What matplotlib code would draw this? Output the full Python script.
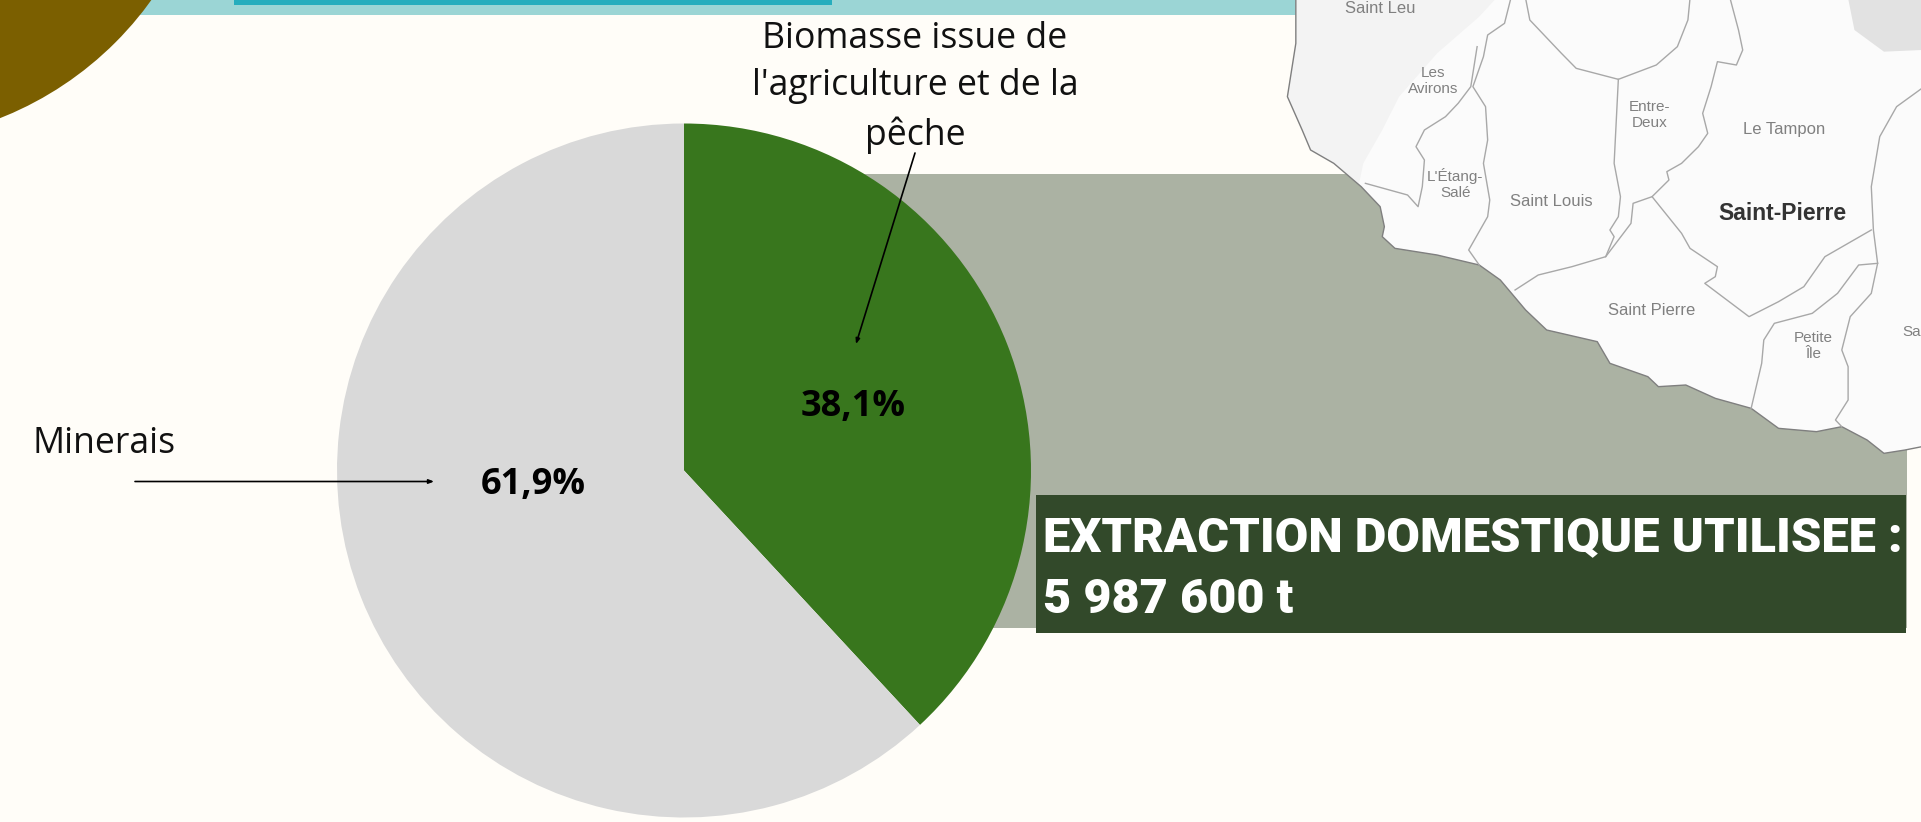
import matplotlib
matplotlib.use('Agg')
import matplotlib.pyplot as plt
from matplotlib.patches import Rectangle, Polygon

# valeurs du camembert
categories = ['Biomasse issue de\nl\'agriculture et de la\npêche', 'Minerais']
valeurs = [38.1, 61.9]
etiquettes = ['38,1%', '61,9%']
couleurs = ['#38761d', '#d9d9d9']
titre = ['EXTRACTION DOMESTIQUE UTILISEE :', '5 987 600 t']

W, H = 1921, 822


def Z(pts):
    return [(1260 + x / 2.372, H - y / 3) for x, y in pts]


# trait de cote et communes (fond de carte)
cote = [(85, -5), (85, 130), (65, 290), (100, 390), (120, 450), (175, 490), (240, 560), (285, 620), (295, 680),
        (290, 710), (320, 745), (420, 765), (520, 795), (570, 840), (630, 930), (680, 990), (800, 1025), (830, 1090),
        (920, 1130), (945, 1160), (1010, 1155), (1080, 1195), (1165, 1225), (1230, 1285), (1320, 1295), (1380, 1280),
        (1440, 1320), (1480, 1360), (1530, 1350), (1570, 1340)]
zone_grise = [(85, -5), (85, 130), (65, 290), (100, 390), (120, 450), (175, 490), (235, 550), (245, 490), (290, 390),
              (330, 290), (420, 160), (520, 50), (560, -5)]
bloc_haut = [(1395, -5), (1410, 90), (1480, 155), (1570, 150), (1570, -5)]
communes = [
    [(515, 140), (500, 260), (470, 310), (440, 350), (390, 390), (370, 440), (390, 480), (385, 560), (375, 620),
     (350, 585), (250, 550)],
    [(595, -5), (580, 70), (540, 105), (530, 170), (505, 260), (535, 320), (540, 420), (530, 490), (545, 600),
     (540, 650), (495, 750), (520, 795)],
    [(630, -5), (640, 60), (715, 160), (750, 205), (850, 238), (940, 195), (990, 140), (1015, 60), (1020, -5)],
    [(850, 238), (840, 490), (855, 590), (850, 650), (830, 690), (840, 710), (820, 770), (740, 800), (660, 825),
     (605, 870)],
    [(1115, -5), (1135, 90), (1145, 150), (1130, 195), (1085, 185), (1070, 260), (1050, 340), (1062, 400), (1040, 440),
     (1000, 490), (965, 515), (970, 540), (930, 590), (885, 610), (880, 670), (820, 770)],
    [(930, 590), (1000, 700), (1020, 745), (1085, 800), (1080, 830), (1055, 850), (1160, 950), (1230, 905), (1290, 860),
     (1340, 770), (1450, 690)],
    [(1570, 265), (1510, 320), (1470, 410), (1450, 560), (1455, 690), (1465, 790), (1450, 880), (1400, 950), (1380, 1050),
     (1395, 1100), (1395, 1200), (1365, 1260), (1380, 1280)],
    [(1465, 790), (1420, 795), (1370, 880), (1310, 940), (1220, 970), (1195, 1020), (1190, 1090), (1165, 1225)],
]
noms = [('Saint Leu', 285, 25, 12, 'normal'), ('Les\nAvirons', 410, 243, 11, 'normal'),
        ('L\'Étang-\nSalé', 463, 552, 11, 'normal'), ('Saint Louis', 692, 605, 12, 'normal'),
        ('Entre-\nDeux', 925, 345, 11, 'normal'), ('Le Tampon', 1243, 388, 12, 'normal'),
        ('Saint-Pierre', 1240, 640, 16.5, 'bold'), ('Saint Pierre', 930, 932, 12, 'normal'),
        ('Petite\nÎle', 1312, 1038, 11, 'normal'), ('Sa', 1545, 995, 11, 'normal')]

fig = plt.figure(figsize=(W / 100, H / 100), dpi=100, facecolor='#fffdf8')
ax = fig.add_axes([0, 0, 1, 1])
ax.set_facecolor('#fffdf8')

# bandeau du haut et cercle brun
ax.add_patch(Rectangle((0, H - 15), 1296, 15, fc='#9bd5d5', ec='none', zorder=1))
ax.add_patch(Rectangle((234, H - 5), 598, 5, fc='#26adbd', ec='none', zorder=2))
ax.add_patch(plt.Circle((-125, H + 198), 340, fc='#7b5f00', ec='none', zorder=2))

# fond gris puis carte
ax.add_patch(Rectangle((860, H - 628), 1047, 454, fc='#abb2a3', ec='none', zorder=1))
ax.add_patch(Polygon(Z(cote + [(1570, -5)]), fc='#fbfbfb', ec='none', zorder=3))
ax.add_patch(Polygon(Z(zone_grise), fc='#f3f3f3', ec='none', zorder=3))
ax.add_patch(Polygon(Z(bloc_haut), fc='#e2e2e2', ec='none', zorder=3))
ax.plot(*zip(*Z(cote)), color='#7f7f7f', lw=1.0, zorder=4)
for c in communes:
    ax.plot(*zip(*Z(c)), color='#a8a8a8', lw=1.0, zorder=4)
for nom, x, y, fs, poids in noms:
    (px, py), = Z([(x, y)])
    ax.text(px, py, nom, fontsize=fs, fontweight=poids, family='Liberation Sans',
            color='#333333' if poids == 'bold' else '#808080', ha='center', va='center', zorder=5,
            linespacing=1.25)

# camembert
ax.pie(valeurs, colors=couleurs, startangle=90, counterclock=False, center=(684, H - 470.5), radius=347,
       frame=True, wedgeprops={'linewidth': 0, 'zorder': 6})
ax.set_xlim(0, W)
ax.set_ylim(0, H)
ax.axis('off')

ax.text(853, H - 407, etiquettes[0], fontsize=26, fontweight='bold', family='Open Sans', ha='center',
        va='center', color='black', zorder=8)
ax.text(533, H - 485, etiquettes[1], fontsize=26, fontweight='bold', family='Open Sans', ha='center',
        va='center', color='black', zorder=8)
ax.text(915, H - 87.5, categories[0], fontsize=25.7, family='Open Sans', ha='center', va='center',
        color='#111111', zorder=8, linespacing=1.41)
ax.text(33, H - 444, categories[1], fontsize=25.7, family='Open Sans', ha='left', va='center',
        color='#111111', zorder=8)

fl = dict(arrowstyle='-|>,head_width=0.12,head_length=0.3', color='black', lw=1.2, shrinkA=0, shrinkB=0)
ax.annotate('', xy=(434, H - 481.5), xytext=(135, H - 481.5), arrowprops=fl, zorder=8)
ax.annotate('', xy=(856, H - 344), xytext=(915, H - 153), arrowprops=fl, zorder=8)

# encadre du total
ax.add_patch(Rectangle((1036, H - 633), 870, 138, fc='#32492a', ec='none', zorder=7))
t1 = ax.text(1043, H - 551, titre[0], fontsize=36, fontweight='black', family='Roboto', color='white',
             ha='left', va='baseline', zorder=8)
t2 = ax.text(1043, H - 613, titre[1], fontsize=36, fontweight='black', family='Roboto', color='white',
             ha='left', va='baseline', zorder=8)
# ajuste la taille a la largeur du bandeau
larg = t1.get_window_extent(fig.canvas.get_renderer()).width
t1.set_fontsize(36 * 860 / larg)
t2.set_fontsize(36 * 860 / larg)

fig.savefig('out.png', dpi=100, facecolor=fig.get_facecolor())
